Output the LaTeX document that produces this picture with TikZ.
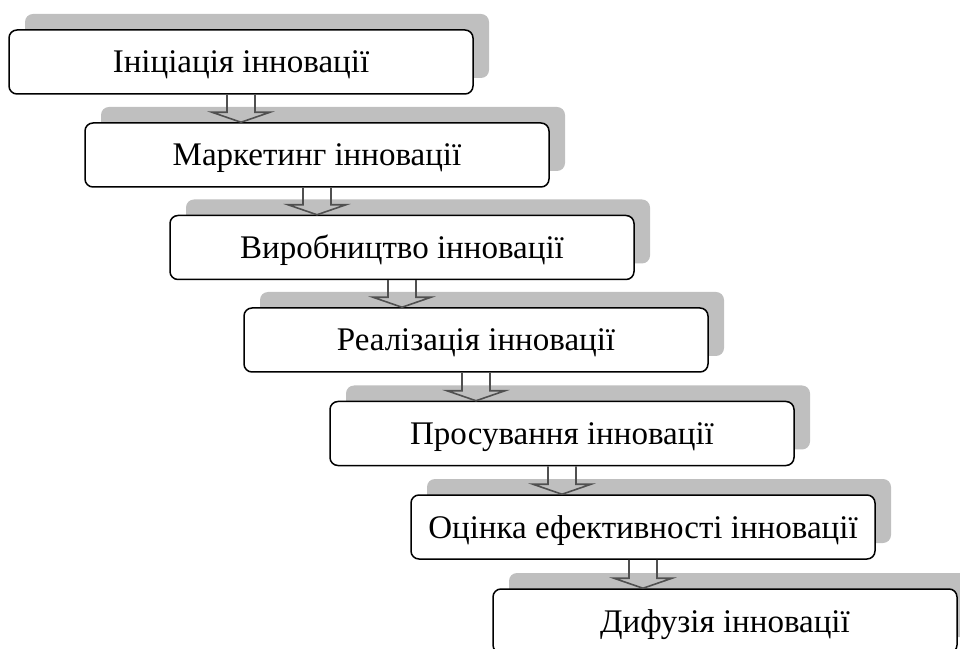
\documentclass[tikz,border=0pt]{standalone}
\usepackage{fontspec}
\setmainfont{Liberation Serif}
\usetikzlibrary{shadows}
\definecolor{shadowgray}{HTML}{BFBFBF}
\definecolor{arrowgray}{HTML}{505050}
\tikzset{
    stage-box/.style = {draw=black, fill=white, line width=1.5pt, rectangle, rounded corners=8pt,
        minimum width=464pt, minimum height=64pt, inner sep=0pt, text height=22pt, text depth=0pt,
        font=\fontsize{33}{40}\selectfont,
        drop shadow={shadow xshift=16pt, shadow yshift=16pt, fill=shadowgray, opacity=1, draw=none}},
    block-arrow/.style = {draw=arrowgray, line width=1.6pt, line join=miter},
}
\newcommand{\stagearrow}[2]{%
    \coordinate (tip) at (#1.south |- #2.north);
    \draw[block-arrow] ([xshift=-14pt]#1.south) -- ([xshift=-14pt,yshift=10pt]tip)
        -- ([xshift=-29pt,yshift=10pt]tip) -- (tip) -- ([xshift=29pt,yshift=10pt]tip)
        -- ([xshift=14pt,yshift=10pt]tip) -- ([xshift=14pt]#1.south);
}

\begin{document}
\begin{tikzpicture}[x=1pt, y=1pt]
\useasboundingbox (0,0) rectangle (960,648);
\clip (0,0) rectangle (960,648);
\node[stage-box] (initiation) at (241,586) {Ініціація інновації};
\node[stage-box] (marketing) at (317,493) {Маркетинг інновації};
\node[stage-box] (production) at (402,400.5) {Виробництво інновації};
\node[stage-box] (realisation) at (476,308) {Реалізація інновації};
\node[stage-box] (promotion) at (562,214.5) {Просування інновації};
\node[stage-box] (evaluation) at (643,121) {Оцінка ефективності інновації};
\node[stage-box] (diffusion) at (725,27) {Дифузія інновації};
\stagearrow{initiation}{marketing}
\stagearrow{marketing}{production}
\stagearrow{production}{realisation}
\stagearrow{realisation}{promotion}
\stagearrow{promotion}{evaluation}
\stagearrow{evaluation}{diffusion}
\end{tikzpicture}
\end{document}
